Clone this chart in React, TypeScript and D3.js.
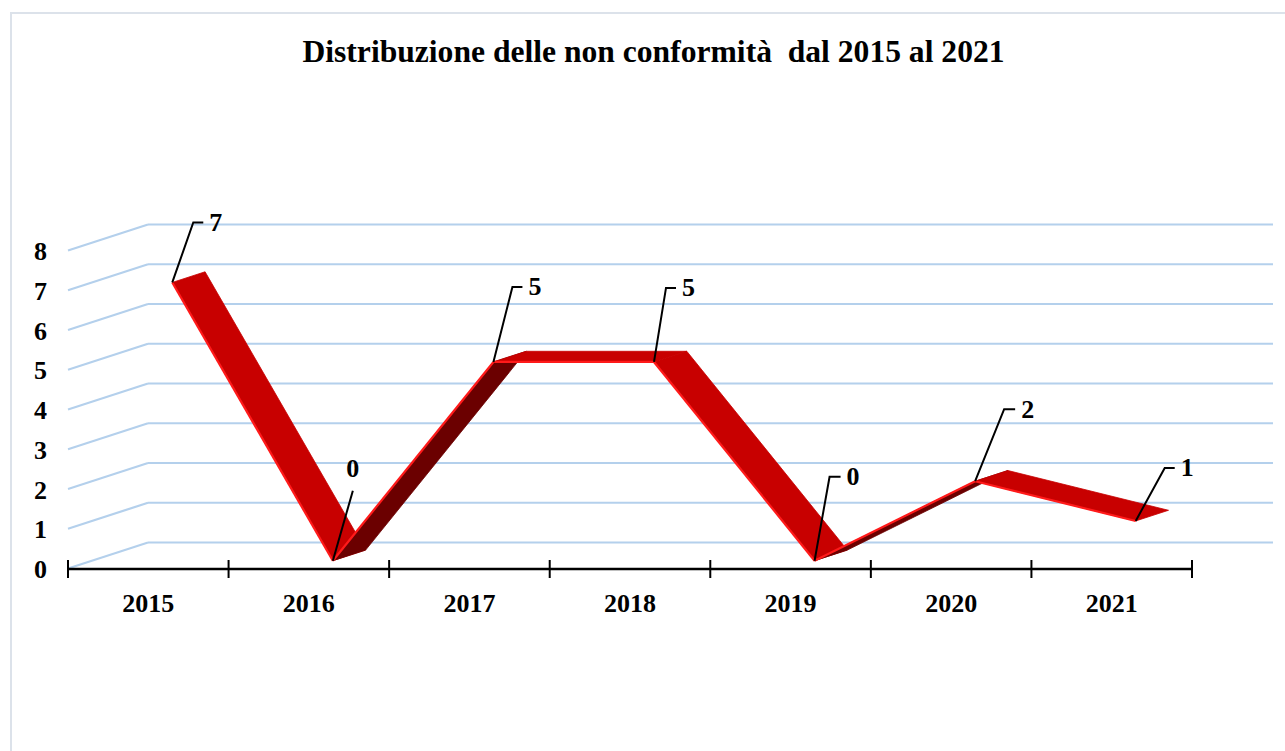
import React from "react";
import * as d3 from "d3";

const years = ["2015", "2016", "2017", "2018", "2019", "2020", "2021"];
const values = [7, 0, 5, 5, 0, 2, 1];
const yTicks = [0, 1, 2, 3, 4, 5, 6, 7, 8];
const title = "Distribuzione delle non conformità  dal 2015 al 2021";
// leader line layout: [dx to elbow, dy to elbow, horizontal length]
const leaderLayout: [number, number, number][] = [
  [21, -60, 10],
  [20, -70, 0],
  [19, -75, 10],
  [12, -74, 10],
  [15, -84, 11],
  [29, -72, 11],
  [29, -53, 10],
];

const W = 1285;
const H = 751;
const DEPTH_X = 80;
const DEPTH_Y = -26;
const FRONT_F = 0.3;
const BACK_F = 0.71;
const FONT = "'Liberation Serif', 'Times New Roman', serif";

export default function App() {
  const x = d3.scaleBand<string>().domain(years).range([68, 1192]).paddingInner(0).paddingOuter(0);
  const y = d3.scaleLinear().domain([0, 8]).range([568.5, 250.5]);
  const bw = x.bandwidth();
  const cx = (c: string) => (x(c) as number) + bw / 2;

  const front = values.map((v, i) => [cx(years[i]) + FRONT_F * DEPTH_X, y(v) + FRONT_F * DEPTH_Y]);
  const back = values.map((v, i) => [cx(years[i]) + BACK_F * DEPTH_X, y(v) + BACK_F * DEPTH_Y]);

  const tickXs = years.map((c) => x(c) as number).concat([1192]);
  const line = d3.line();

  return (
    <svg
      width={W}
      height={H}
      style={{ position: "absolute", left: 0, top: 0, background: "#fff" }}
    >
      <rect x={11} y={13} width={1400} height={900} fill="#fff" stroke="#DCE2EA" strokeWidth={2} />
      <text
        x={653.5}
        y={62}
        textAnchor="middle"
        fontFamily={FONT}
        fontWeight="bold"
        fontSize={31.6}
        style={{ whiteSpace: "pre" }}
      >
        {title}
      </text>

      {/* gridlines: side wall slants + back wall */}
      {yTicks.map((t) => (
        <g key={"g" + t} stroke="#B4D0EC" strokeWidth={2.2} fill="none">
          <line x1={68} y1={y(t)} x2={68 + DEPTH_X} y2={y(t) + DEPTH_Y} />
          <line x1={68 + DEPTH_X} y1={y(t) + DEPTH_Y} x2={1192 + DEPTH_X + 1} y2={y(t) + DEPTH_Y} />
        </g>
      ))}

      {/* y labels */}
      {yTicks.map((t) => (
        <text
          key={"yl" + t}
          x={47}
          y={y(t) + 1}
          textAnchor="end"
          dominantBaseline="central"
          fontFamily={FONT}
          fontWeight="bold"
          fontSize={26}
        >
          {t}
        </text>
      ))}

      {/* x axis */}
      <line x1={68} y1={569} x2={1192} y2={569} stroke="#000" strokeWidth={2.5} />
      {tickXs.map((tx, i) => (
        <line key={"t" + i} x1={tx} y1={560} x2={tx} y2={578} stroke="#000" strokeWidth={2} />
      ))}
      {years.map((c) => (
        <text
          key={"xl" + c}
          x={cx(c)}
          y={612}
          textAnchor="middle"
          fontFamily={FONT}
          fontWeight="bold"
          fontSize={26}
        >
          {c}
        </text>
      ))}

      {/* ribbon */}
      {values.slice(0, -1).map((v, i) => {
        const up = values[i + 1] > v;
        const poly = [front[i], front[i + 1], back[i + 1], back[i]] as [number, number][];
        return (
          <g key={"s" + i}>
            <path d={line(poly) + "Z"} fill={up ? "#6B0000" : "#C80000"} stroke={up ? "#6B0000" : "#C80000"} strokeWidth={0.8} strokeLinejoin="round" />
            <path
              d={line([front[i], front[i + 1]] as [number, number][]) as string}
              stroke="#FF1A1A"
              strokeWidth={2.2}
              fill="none"
            />
          </g>
        );
      })}

      {/* data labels with leader lines */}
      {values.map((v, i) => {
        const [px, py] = front[i];
        const [dx, dy, hl] = leaderLayout[i];
        const ex = px + dx;
        const ey = py + dy;
        const pts: [number, number][] = [[px, py], [ex, ey]];
        if (hl > 0) pts.push([ex + hl, ey]);
        const labelX = hl > 0 ? ex + hl + 6 : ex;
        const labelY = hl > 0 ? ey : ey - 22;
        return (
          <g key={"l" + i}>
            <path d={line(pts) as string} stroke="#000" strokeWidth={2} fill="none" />
            <text
              x={labelX}
              y={labelY}
              textAnchor={hl > 0 ? "start" : "middle"}
              dominantBaseline="central"
              fontFamily={FONT}
              fontWeight="bold"
              fontSize={26}
            >
              {v}
            </text>
          </g>
        );
      })}
    </svg>
  );
}
